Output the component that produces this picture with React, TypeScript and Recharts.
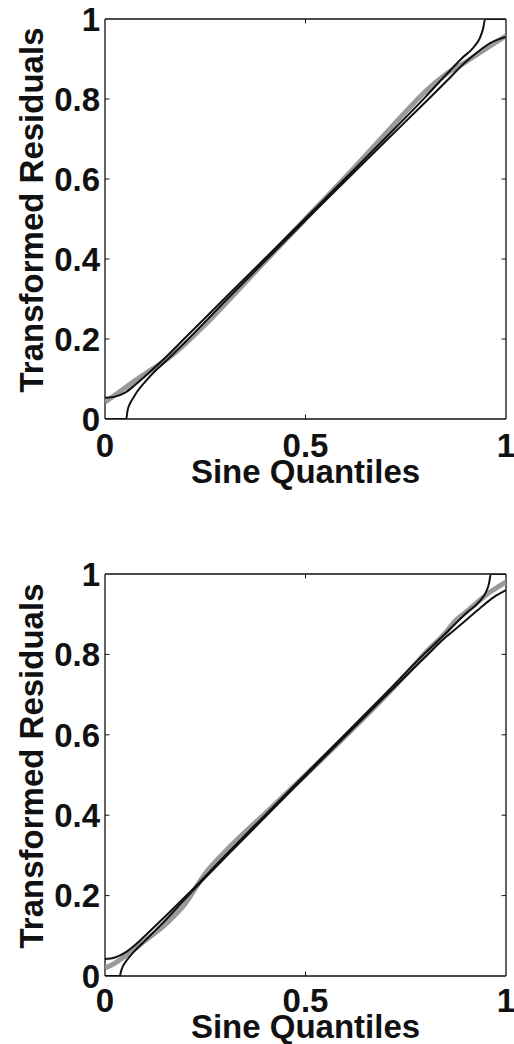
import React from 'react';
import { LineChart, Line, XAxis, YAxis, ReferenceLine, Label } from 'recharts';

// ---------- Tick values ----------
const xTicks = [0, 0.5, 1];
const yTicks = [0, 0.2, 0.4, 0.6, 0.8, 1];
const xTitle = 'Sine Quantiles';
const yTitle = 'Transformed Residuals';

// ---------- Panel 1 (top) ----------
const empX1 = [0, 0.025, 0.05, 0.075, 0.1, 0.15, 0.2, 0.25, 0.3, 0.4, 0.5, 0.6, 0.7, 0.75, 0.8, 0.85, 0.9, 0.95, 1];
const empY1 = [0.042, 0.06, 0.078, 0.096, 0.113, 0.146, 0.188, 0.236, 0.288, 0.395, 0.5, 0.605, 0.714, 0.768, 0.82, 0.862, 0.893, 0.926, 0.958];

const upX1 = [0, 0.025, 0.05, 0.075, 0.1, 0.15, 0.2, 0.3, 0.5, 0.7, 0.8, 0.85, 0.89, 0.92, 0.935, 0.943, 0.948, 1];
const upY1 = [0.053, 0.056, 0.066, 0.085, 0.107, 0.153, 0.203, 0.303, 0.502, 0.703, 0.806, 0.86, 0.902, 0.93, 0.953, 0.976, 1, 1];

const loX1 = [0, 0.053, 0.056, 0.063, 0.07, 0.08, 0.1, 0.125, 0.15, 0.2, 0.3, 0.5, 0.7, 0.8, 0.85, 0.9, 0.935, 0.965, 1];
const loY1 = [0, 0, 0.02, 0.04, 0.052, 0.068, 0.093, 0.12, 0.143, 0.192, 0.295, 0.497, 0.695, 0.793, 0.843, 0.893, 0.922, 0.942, 0.955];

// ---------- Panel 2 (bottom) ----------
const empX2 = [0, 0.025, 0.05, 0.075, 0.1, 0.15, 0.2, 0.25, 0.3, 0.4, 0.5, 0.6, 0.7, 0.75, 0.8, 0.85, 0.875, 0.9, 0.935, 0.96, 0.98, 1];
const empY2 = [0.02, 0.032, 0.05, 0.068, 0.088, 0.128, 0.18, 0.255, 0.31, 0.405, 0.5, 0.597, 0.697, 0.75, 0.805, 0.855, 0.885, 0.905, 0.935, 0.955, 0.968, 0.98];

const upX2 = [0, 0.025, 0.05, 0.075, 0.1, 0.15, 0.2, 0.3, 0.5, 0.7, 0.8, 0.85, 0.9, 0.935, 0.95, 0.958, 0.962, 1];
const upY2 = [0.042, 0.046, 0.058, 0.077, 0.1, 0.148, 0.197, 0.3, 0.502, 0.703, 0.805, 0.853, 0.902, 0.933, 0.955, 0.978, 1, 1];

const loX2 = [0, 0.037, 0.04, 0.045, 0.055, 0.07, 0.1, 0.15, 0.2, 0.3, 0.5, 0.7, 0.8, 0.85, 0.88, 0.9, 0.935, 0.975, 1];
const loY2 = [0, 0, 0.012, 0.025, 0.04, 0.058, 0.088, 0.138, 0.192, 0.295, 0.497, 0.697, 0.795, 0.843, 0.868, 0.885, 0.915, 0.946, 0.96];

const toPts = (xs: number[], ys: number[]) => xs.map((x, i) => ({ x, y: ys[i] }));

const FONT = '"Liberation Sans", Arial, Helvetica, sans-serif';
const INK = '#111';

type PanelProps = {
  emp: { x: number; y: number }[];
  up: { x: number; y: number }[];
  lo: { x: number; y: number }[];
  height: number;
  marginTop: number;
  marginBottom: number;
  xTickMargin: number;
  xLabelY: number;
  yLabelY: number;
};

const TICK = 0.011;

function Panel(p: PanelProps) {
  const innerTicksY = yTicks.filter((v) => v > 0 && v < 1);
  const innerTicksX = xTicks.filter((v) => v > 0 && v < 1);
  return (
    <LineChart
      width={514}
      height={p.height}
      margin={{ top: p.marginTop, right: 8, bottom: p.marginBottom, left: 5 }}
    >
      <XAxis
        type="number"
        dataKey="x"
        domain={[0, 1]}
        ticks={xTicks}
        interval={0}
        allowDataOverflow
        axisLine={false}
        tickLine={false}
        tickSize={0}
        tickMargin={p.xTickMargin}
        height={50}
        tick={{ fill: INK, fontSize: 33, fontWeight: 700, fontFamily: FONT }}
        tickFormatter={(v: number) => String(v)}
      >
        <Label
          content={() => (
            <text
              x={305.5}
              y={p.xLabelY}
              textAnchor="middle"
              fill={INK}
              style={{ fontSize: 33, fontWeight: 700, fontFamily: FONT }}
            >
              {xTitle}
            </text>
          )}
        />
      </XAxis>
      <YAxis
        type="number"
        dataKey="y"
        domain={[0, 1]}
        ticks={yTicks}
        interval={0}
        allowDataOverflow
        axisLine={false}
        tickLine={false}
        tickSize={0}
        tickMargin={5}
        width={100}
        tick={{ fill: INK, fontSize: 33, fontWeight: 700, fontFamily: FONT }}
        tickFormatter={(v: number) => String(v)}
      >
        <Label
          content={() => (
            <text
              x={43}
              y={p.yLabelY}
              transform={`rotate(-90 43 ${p.yLabelY})`}
              textAnchor="middle"
              fill={INK}
              style={{ fontSize: 33, fontWeight: 700, fontFamily: FONT }}
            >
              {yTitle}
            </text>
          )}
        />
      </YAxis>

      {/* frame */}
      <ReferenceLine x={0} stroke={INK} strokeWidth={1.3} ifOverflow="visible" />
      <ReferenceLine x={1} stroke={INK} strokeWidth={1.3} ifOverflow="visible" />
      <ReferenceLine y={0} stroke={INK} strokeWidth={1.3} ifOverflow="visible" />
      <ReferenceLine y={1} stroke={INK} strokeWidth={1.3} ifOverflow="visible" />

      {/* inward tick marks */}
      {innerTicksY.map((v) => (
        <ReferenceLine key={`l${v}`} segment={[{ x: 0, y: v }, { x: TICK, y: v }]} stroke={INK} strokeWidth={1} />
      ))}
      {innerTicksY.map((v) => (
        <ReferenceLine key={`r${v}`} segment={[{ x: 1 - TICK, y: v }, { x: 1, y: v }]} stroke={INK} strokeWidth={1} />
      ))}
      {innerTicksX.map((v) => (
        <ReferenceLine key={`b${v}`} segment={[{ x: v, y: 0 }, { x: v, y: TICK }]} stroke={INK} strokeWidth={1} />
      ))}
      {innerTicksX.map((v) => (
        <ReferenceLine key={`t${v}`} segment={[{ x: v, y: 1 - TICK }, { x: v, y: 1 }]} stroke={INK} strokeWidth={1} />
      ))}

      <Line
        data={p.emp}
        dataKey="y"
        type="monotone"
        stroke="#9a9a9a"
        strokeWidth={5}
        dot={false}
        activeDot={false}
        isAnimationActive={false}
      />
      <Line
        data={p.up}
        dataKey="y"
        type="monotone"
        stroke={INK}
        strokeWidth={2}
        dot={false}
        activeDot={false}
        isAnimationActive={false}
      />
      <Line
        data={p.lo}
        dataKey="y"
        type="monotone"
        stroke={INK}
        strokeWidth={2}
        dot={false}
        activeDot={false}
        isAnimationActive={false}
      />
    </LineChart>
  );
}

export default function App() {
  return (
    <div style={{ position: 'absolute', left: 0, top: 0, width: 514, height: 1044, background: '#fff', overflow: 'hidden' }}>
      <div style={{ position: 'absolute', left: 0, top: 0 }}>
        <Panel
          emp={toPts(empX1, empY1)}
          up={toPts(upX1, upY1)}
          lo={toPts(loX1, loY1)}
          height={500}
          marginTop={19}
          marginBottom={31}
          xTickMargin={15}
          xLabelY={483}
          yLabelY={210}
        />
      </div>
      <div style={{ position: 'absolute', left: 0, top: 540 }}>
        <Panel
          emp={toPts(empX2, empY2)}
          up={toPts(upX2, upY2)}
          lo={toPts(loX2, loY2)}
          height={504}
          marginTop={34}
          marginBottom={18}
          xTickMargin={13}
          xLabelY={498}
          yLabelY={226}
        />
      </div>
    </div>
  );
}
